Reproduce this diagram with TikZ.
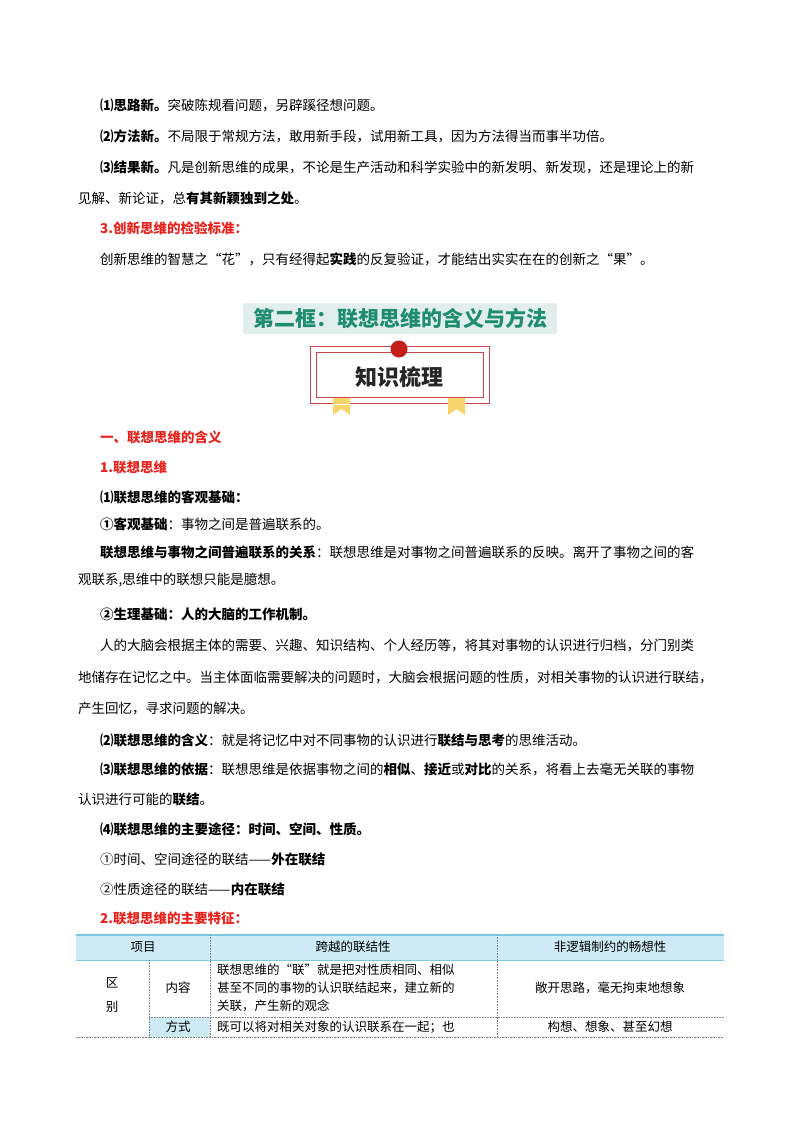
\documentclass[tikz,border=0pt]{standalone}
\usepackage{fontspec}
\setmainfont{Noto Sans CJK SC}
\XeTeXlinebreaklocale "zh"
\definecolor{redt}{HTML}{E8231E}
\definecolor{teal}{HTML}{1E8C6E}
\definecolor{tbg}{HTML}{E2EEEC}
\definecolor{frame}{HTML}{C8454A}
\definecolor{ribbon}{HTML}{F8D56B}
\definecolor{hdr}{HTML}{CDEAF5}
\definecolor{hdrl}{HTML}{7FC6E0}
\begin{document}
\begin{tikzpicture}[x=1pt,y=-1pt,
  ln/.style={anchor=west,inner sep=0pt,font=\fontsize{13.5}{16}\selectfont},
  rd/.style={ln,text=redt,font=\fontsize{13.5}{16}\selectfont\bfseries},
  bd/.style={ln,font=\fontsize{13.5}{16}\selectfont\bfseries},
  tb/.style={inner sep=0pt,font=\fontsize{12.5}{18}\selectfont},
  dl/.style={densely dotted,gray,line width=0.6pt}]
\useasboundingbox (0,0) rectangle (800,1132);
\fill[white] (0,0) rectangle (800,1132);
\node[ln] (l1) at (100,105) {\textbf{⑴思路新。}突破陈规看问题，另辟蹊径想问题。};
\node[ln] (l2) at (100,136) {\textbf{⑵方法新。}不局限于常规方法，敢用新手段，试用新工具，因为方法得当而事半功倍。};
\node[ln] (l3) at (100,167) {\makebox[625pt][s]{\textbf{⑶结果新。}凡是创新思维的成果，不论是生产活动和科学实验中的新发明、新发现，还是理论上的新}};
\node[ln] (l4) at (78,198) {见解、新论证，总\textbf{有其新颖独到之处}。};
\node[rd] (l5) at (100,228) {3.创新思维的检验标准：};
\node[ln] (l6) at (100,259) {创新思维的智慧之“花”，只有经得起\textbf{实践}的反复验证，才能结出实实在在的创新之“果”。};
% title
\fill[tbg] (243,303) rectangle (557,334);
\node[text=teal,font=\fontsize{21}{24}\selectfont\bfseries] (title) at (400,318.5) {第二框：联想思维的含义与方法};
% banner
\draw[frame,line width=1pt] (310,346) rectangle (489,403);
\draw[frame,line width=1pt] (316,352) rectangle (483,397);
\fill[ribbon] (333,398) -- (350,398) -- (350,415) -- (341.5,409) -- (333,415) -- cycle;
\fill[ribbon] (448,398) -- (465,398) -- (465,415) -- (456.5,409) -- (448,415) -- cycle;
\fill[white] (331,403.5) rectangle (352,404.5);
\fill[redt!85!black] (399,349) circle (8.5);
\node[font=\fontsize{22}{24}\selectfont\bfseries,text=black!85] (kn) at (399,377) {知识梳理};
% section 1
\node[rd] (s1) at (100,437) {一、联想思维的含义};
\node[rd] (s2) at (100,467) {1.联想思维};
\node[bd] (a1) at (100,497) {⑴联想思维的客观基础：};
\node[ln] (a2) at (100,524) {\textbf{①客观基础}：事物之间是普遍联系的。};
\node[ln] (a3) at (100,552) {\makebox[625pt][s]{\textbf{联想思维与事物之间普遍联系的关系}：联想思维是对事物之间普遍联系的反映。离开了事物之间的客}};
\node[ln] (a4) at (78,580) {观联系,思维中的联想只能是臆想。};
\node[bd] (a5) at (100,614) {②生理基础：人的大脑的工作机制。};
\node[ln] (a6) at (100,646) {\makebox[625pt][s]{人的大脑会根据主体的需要、兴趣、知识结构、个人经历等，将其对事物的认识进行归档，分门别类}};
\node[ln] (a7) at (78,678) {\makebox[647pt][s]{地储存在记忆之中。当主体面临需要解决的问题时，大脑会根据问题的性质，对相关事物的认识进行联结，}};
\node[ln] (a8) at (78,709) {产生回忆，寻求问题的解决。};
\node[ln] (a9) at (100,740) {\textbf{⑵联想思维的含义}：就是将记忆中对不同事物的认识进行\textbf{联结与思考}的思维活动。};
\node[ln] (a10) at (100,769) {\makebox[625pt][s]{\textbf{⑶联想思维的依据}：联想思维是依据事物之间的\textbf{相似}、\textbf{接近}或\textbf{对比}的关系，将看上去毫无关联的事物}};
\node[ln] (a11) at (78,799) {认识进行可能的\textbf{联结}。};
\node[bd] (a12) at (100,829) {⑷联想思维的主要途径：时间、空间、性质。};
\node[ln] (a13) at (100,859) {①时间、空间途径的联结——\textbf{外在联结}};
\node[ln] (a14) at (100,889) {②性质途径的联结——\textbf{内在联结}};
\node[rd] (s3) at (100,918) {2.联想思维的主要特征：};
% table
\fill[hdr] (76,935) rectangle (724,960);
\fill[hdr] (149,1017) rectangle (210,1037);
\draw[hdrl,line width=1.2pt] (76,935) -- (724,935);
\draw[hdrl,line width=0.8pt] (76,960) -- (724,960);
\draw[dl] (210,935) -- (210,1037);
\draw[dl] (497,935) -- (497,1037);
\draw[dl] (149,960) -- (149,1037);
\draw[dl] (149,1017) -- (724,1017);
\draw[dl] (76,1037) -- (724,1037);
\node[tb] (h1) at (143,947) {项目};
\node[tb] (h2) at (353,947) {跨越的联结性};
\node[tb] (h3) at (610,947) {非逻辑制约的畅想性};
\node[tb,align=center] (c0) at (112,995) {区\\[6pt]别};
\node[tb] (c1) at (178,988) {内容};
\node[tb,anchor=north west,align=left] (c2) at (217,964) {联想思维的“联”就是把对性质相同、相似\\甚至不同的事物的认识联结起来，建立新的\\关联，产生新的观念};
\node[tb] (c3) at (610,988) {敞开思路，毫无拘束地想象};
\node[tb] (d1) at (178,1027) {方式};
\node[tb,anchor=west] (d2) at (217,1027) {既可以将对相关对象的认识联系在一起；也};
\node[tb] (d3) at (610,1027) {构想、想象、甚至幻想};
\end{tikzpicture}
\end{document}
